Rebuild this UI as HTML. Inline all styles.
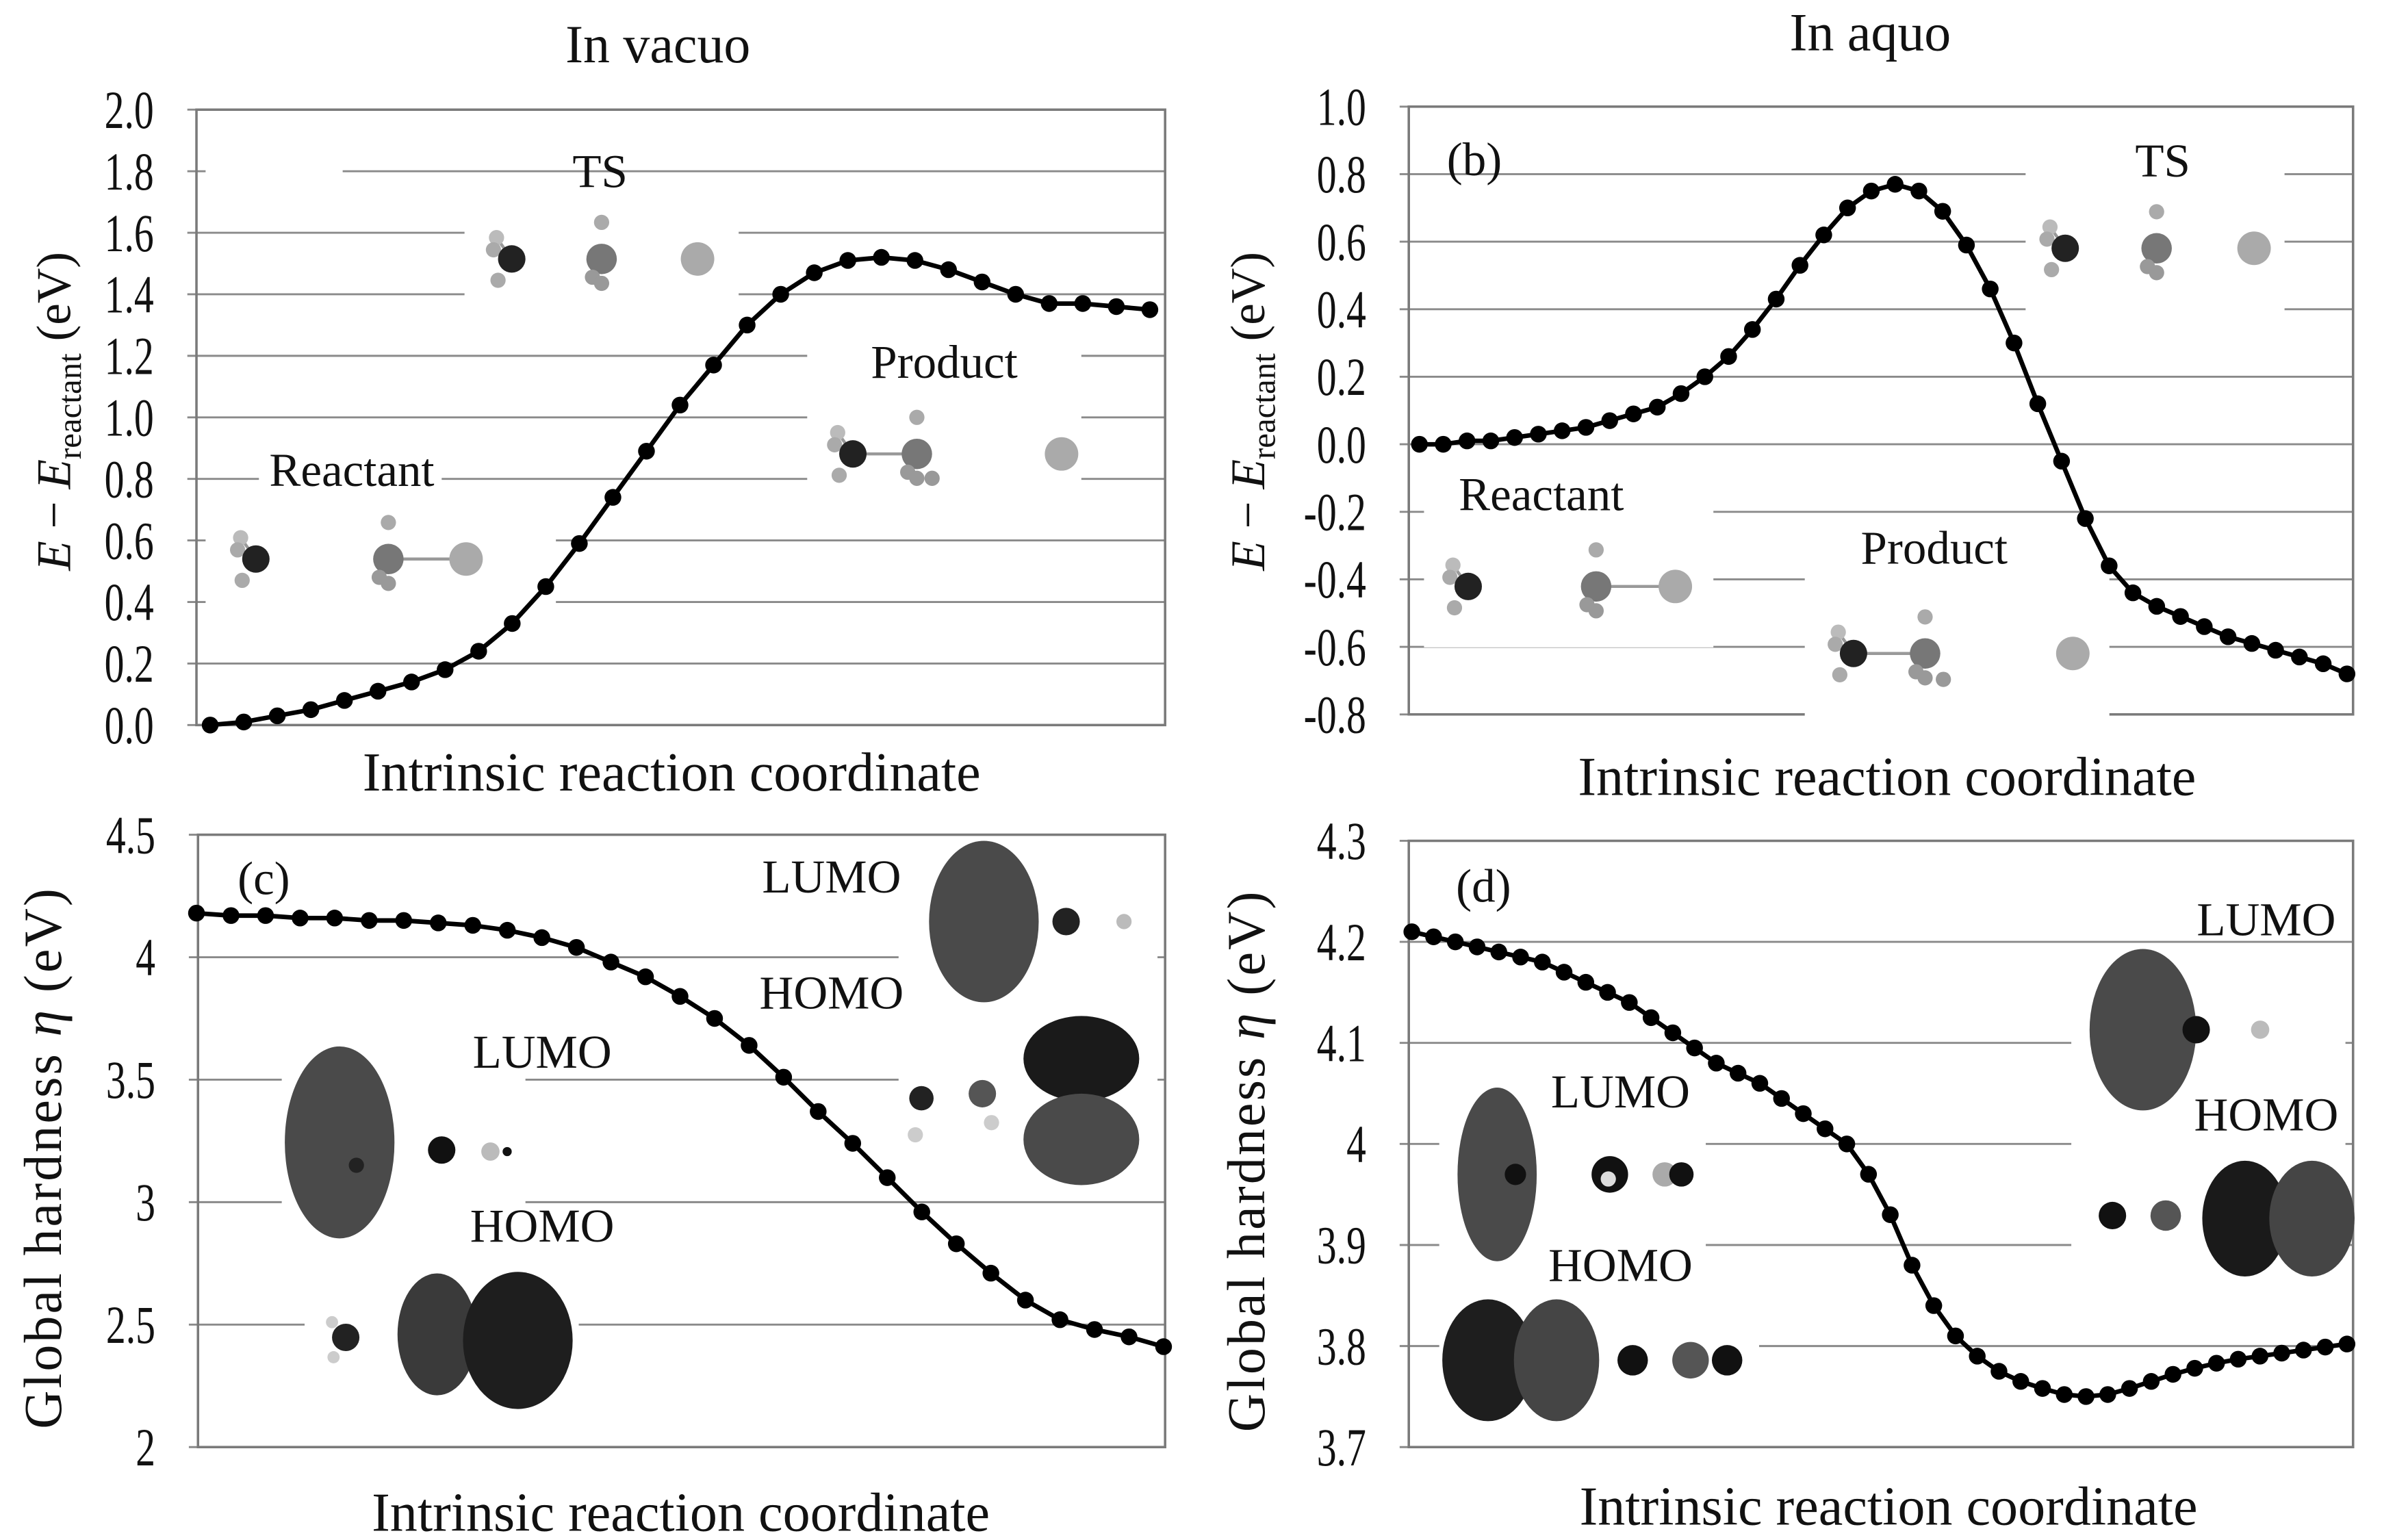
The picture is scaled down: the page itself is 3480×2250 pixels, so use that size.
<!DOCTYPE html>
<html><head><meta charset="utf-8">
<style>
html,body{margin:0;padding:0;background:#fff;}
svg{display:block;font-family:"Liberation Serif",serif;}
</style></head>
<body>
<svg id="fig" xmlns="http://www.w3.org/2000/svg" width="3480" height="2250" viewBox="0 0 1564 1011" preserveAspectRatio="none">
<rect x="0" y="0" width="1564" height="1011" fill="#fff"/>
<g id="layer"></g>
</svg>
<script>
// ---- Panel (a) data: in vacuo energy ----
const aValues = [0,0.01,0.03,0.05,0.08,0.11,0.14,0.18,0.24,0.33,0.45,0.59,0.74,0.89,1.04,1.17,1.30,1.40,1.47,1.51,1.52,1.51,1.48,1.44,1.40,1.37,1.37,1.36,1.35];
const aTicks = ["0.0","0.2","0.4","0.6","0.8","1.0","1.2","1.4","1.6","1.8","2.0"];
// ---- Panel (b) data: in aquo energy ----
const bValues = [0.00,0.00,0.01,0.01,0.02,0.03,0.04,0.05,0.07,0.09,0.11,0.15,0.20,0.26,0.34,0.43,0.53,0.62,0.70,0.75,0.77,0.75,0.69,0.59,0.46,0.30,0.12,-0.05,-0.22,-0.36,-0.44,-0.48,-0.51,-0.54,-0.57,-0.59,-0.61,-0.63,-0.65,-0.68];
const bTicks = ["-0.8","-0.6","-0.4","-0.2","0.0","0.2","0.4","0.6","0.8","1.0"];
// ---- Panel (c) data: in vacuo hardness ----
const cValues = [4.18,4.17,4.17,4.16,4.16,4.15,4.15,4.14,4.13,4.11,4.08,4.04,3.98,3.92,3.84,3.75,3.64,3.51,3.37,3.24,3.10,2.96,2.83,2.71,2.60,2.52,2.48,2.45,2.41];
const cTicks = ["2","2.5","3","3.5","4","4.5"];
// ---- Panel (d) data: in aquo hardness ----
const dValues = [4.21,4.205,4.20,4.195,4.19,4.185,4.18,4.17,4.16,4.15,4.14,4.125,4.11,4.095,4.08,4.07,4.06,4.045,4.03,4.015,4.00,3.97,3.93,3.88,3.84,3.81,3.79,3.775,3.765,3.758,3.752,3.75,3.752,3.758,3.765,3.772,3.778,3.783,3.787,3.79,3.793,3.796,3.799,3.802];
const dTicks = ["3.7","3.8","3.9","4","4.1","4.2","4.3"];

const NS = "http://www.w3.org/2000/svg";
const layer = document.getElementById('layer');
function mk(tag, attrs, parent){
  const e = document.createElementNS(NS, tag);
  for (const k in attrs) e.setAttribute(k, attrs[k]);
  (parent||layer).appendChild(e);
  return e;
}
function squeeze(t, f){
  const w = t.getComputedTextLength();
  if (w > 0){ t.setAttribute('textLength', (w*f).toFixed(1)); t.setAttribute('lengthAdjust','spacingAndGlyphs'); }
}

const panels = [
  {id:'a', vals:aValues, ticks:aTicks, x0:129, x1:765, yTop:72, yBot:476, px0:138, px1:755, label:'(a)', lx:156, ly:115},
  {id:'b', vals:bValues, ticks:bTicks, x0:925, x1:1545, yTop:70, yBot:469, px0:932, px1:1541, label:'(b)', lx:950, ly:115},
  {id:'c', vals:cValues, ticks:cTicks, x0:130, x1:765, yTop:548, yBot:950, px0:129, px1:764, label:'(c)', lx:156, ly:587},
  {id:'d', vals:dValues, ticks:dTicks, x0:925, x1:1545, yTop:552, yBot:950, px0:927, px1:1541, label:'(d)', lx:956, ly:592}
];

panels.forEach(p=>{
  const g = mk('g', {});
  
  
  const tmin = parseFloat(p.ticks[0]), tmax = parseFloat(p.ticks[p.ticks.length-1]);
  const yScale = v => p.yBot - (v - tmin)/(tmax - tmin)*(p.yBot - p.yTop);
  const xScale = i => p.px0 + i*(p.px1 - p.px0)/(p.vals.length-1);
  p.ticks.forEach(t=>{
    const y = yScale(parseFloat(t));
    const gl = mk('line', {x1:p.x0-6, x2:p.x1, y1:y, y2:y, stroke:'#8a8a8a', 'stroke-width':1.3}, g);
    
    
    const tl = mk('text', {x:p.x0-28, y:y+12, 'text-anchor':'end', 'font-size':35, fill:'#111'}, g);
    tl.textContent = t;
    
    
    squeeze(tl, 0.74);
  });
  const fr = mk('rect', {x:p.x0, y:p.yTop, width:p.x1-p.x0, height:p.yBot-p.yTop, fill:'none', stroke:'#7a7a7a', 'stroke-width':1.6}, g);
  
  
  const lb = mk('text', {x:p.lx, y:p.ly, 'font-size':31, fill:'#111'}, g);
  lb.textContent = p.label;
  
  
  p.g = g; p.yScale = yScale; p.xScale = xScale;
});

function atom(g,x,y,r,c){ mk('circle',{cx:x,cy:y,r:r,fill:c},g); }
function whiteBox(g,x,y,w,h){ mk('rect',{x:x,y:y,width:w,height:h,fill:'#fff'},g); }
function methylAmmine(g,x,y,s){
  mk('line',{x1:x,y1:y,x2:x-10*s,y2:y-14*s,stroke:'#999','stroke-width':2},g);
  atom(g,x-10*s,y-14*s,5*s,'#bbb'); atom(g,x-12*s,y-6*s,5*s,'#aaa');
  atom(g,x,y,9*s,'#222'); atom(g,x-9*s,y+14*s,5*s,'#aaa');
}
function ch3(g,x,y,s){
  atom(g,x,y-24*s,5*s,'#aaa'); atom(g,x,y,10*s,'#777'); atom(g,x-6*s,y+12*s,5*s,'#999'); atom(g,x,y+16*s,5*s,'#999');
}
function orb(g,cx,cy,rx,ry,c){ mk('ellipse',{cx:cx,cy:cy,rx:rx,ry:ry,fill:c},g); }
function ann(g,s,x,y){
  const t = mk('text',{x:x,y:y,'text-anchor':'middle','font-size':31,fill:'#111'},g); t.textContent=s;
   
}

(function(){
  const g = panels[0].g;
  whiteBox(g,135,85,90,40);
  whiteBox(g,305,125,180,80);
  whiteBox(g,135,330,230,80); whiteBox(g,170,296,120,30);
  whiteBox(g,530,225,180,120);
  methylAmmine(g,336,170,1); ch3(g,395,170,1); atom(g,458,170,11,'#aaa');
  methylAmmine(g,168,367,1); mk('line',{x1:255,y1:367,x2:305,y2:367,stroke:'#999','stroke-width':2},g); ch3(g,255,367,1); atom(g,306,367,11,'#aaa');
  mk('line',{x1:560,y1:298,x2:600,y2:298,stroke:'#999','stroke-width':2},g);
  methylAmmine(g,560,298,1); ch3(g,602,298,1); atom(g,612,314,5,'#999'); atom(g,697,298,11,'#aaa');
  ann(g,'TS',394,123); ann(g,'Reactant',231,319); ann(g,'Product',620,248);
})();
(function(){
  const g = panels[1].g;
  whiteBox(g,1330,95,170,110);
  whiteBox(g,935,315,190,110);
  whiteBox(g,1185,345,200,125);
  methylAmmine(g,1356,163,1); ch3(g,1416,163,1); atom(g,1480,163,11,'#aaa');
  methylAmmine(g,964,385,1); mk('line',{x1:1048,y1:385,x2:1098,y2:385,stroke:'#999','stroke-width':2},g); ch3(g,1048,385,1); atom(g,1100,385,11,'#aaa');
  mk('line',{x1:1217,y1:429,x2:1262,y2:429,stroke:'#999','stroke-width':2},g);
  methylAmmine(g,1217,429,1); ch3(g,1264,429,1); atom(g,1276,446,5,'#999'); atom(g,1361,429,11,'#aaa');
  ann(g,'TS',1420,116); ann(g,'Reactant',1012,335); ann(g,'Product',1270,370);
})();
(function(){
  const g = panels[2].g;
  whiteBox(g,185,680,160,130); whiteBox(g,200,830,180,100); whiteBox(g,590,550,170,230);
  orb(g,223,750,36,63,'#4a4a4a'); atom(g,234,765,5,'#222');
  atom(g,290,755,9,'#111'); atom(g,322,756,6,'#bbb'); atom(g,333,756,3,'#111');
  atom(g,227,878,9,'#222'); atom(g,218,868,4,'#ccc'); atom(g,219,891,4,'#ccc');
  orb(g,287,876,26,40,'#3a3a3a'); orb(g,340,880,36,45,'#1e1e1e');
  orb(g,646,605,36,53,'#4a4a4a'); atom(g,700,605,9,'#222'); atom(g,738,605,5,'#bbb');
  orb(g,710,695,38,28,'#1a1a1a'); orb(g,710,748,38,30,'#4a4a4a');
  atom(g,605,721,8,'#222'); atom(g,645,718,9,'#555'); atom(g,651,737,5,'#ccc'); atom(g,601,745,5,'#ccc');
  ann(g,'LUMO',546,586); ann(g,'HOMO',546,662); ann(g,'LUMO',356,701); ann(g,'HOMO',356,815);
})();
(function(){
  const g = panels[3].g;
  whiteBox(g,945,705,175,140); whiteBox(g,945,850,210,90);
  whiteBox(g,1360,630,180,200);
  orb(g,983,771,26,57,'#4a4a4a'); atom(g,995,771,7,'#111');
  atom(g,1057,771,12,'#111'); atom(g,1056,774,5,'#ddd'); atom(g,1093,771,8,'#aaa'); atom(g,1104,771,8,'#111');
  orb(g,977,893,30,40,'#1e1e1e'); orb(g,1022,893,28,40,'#454545');
  atom(g,1072,893,10,'#111'); atom(g,1110,893,12,'#555'); atom(g,1134,893,10,'#111');
  orb(g,1407,676,35,53,'#4a4a4a'); atom(g,1442,676,9,'#111'); atom(g,1484,676,6,'#bbb');
  orb(g,1474,800,28,38,'#1a1a1a'); orb(g,1518,800,28,38,'#454545');
  atom(g,1387,798,9,'#111'); atom(g,1422,798,10,'#555');
  ann(g,'LUMO',1488,614); ann(g,'HOMO',1488,742); ann(g,'LUMO',1064,727); ann(g,'HOMO',1064,841);
})();

panels.forEach(p=>{
  const pts = p.vals.map((v,i)=>p.xScale(i).toFixed(1)+','+p.yScale(v).toFixed(1)).join(' ');
  const ln = mk('polyline',{points:pts, fill:'none', stroke:'#000', 'stroke-width':3, 'stroke-linejoin':'round'}, p.g);
  
  
  p.vals.forEach((v,i)=>{
    const c = mk('circle',{cx:p.xScale(i), cy:p.yScale(v), r:5.5, fill:'#000'}, p.g);
    
    
  });
});

function txt(s,x,y,size,attrs,name){
  const t = mk('text', Object.assign({x:x,y:y,'text-anchor':'middle','font-size':size,fill:'#111'}, attrs||{}));
  t.innerHTML = s;
  
  
  return t;
}
txt('In vacuo',432,41,35,{},'column-title-vacuo');
txt('In aquo',1228,33,35,{},'column-title-aquo');
txt('Intrinsic reaction coordinate',441,519,36,{},'x-axis-title-a');
txt('Intrinsic reaction coordinate',1239,522,36,{},'x-axis-title-b');
txt('Intrinsic reaction coordinate',447,1005,36,{},'x-axis-title-c');
txt('Intrinsic reaction coordinate',1240,1001,36,{},'x-axis-title-d');
const eLab = '<tspan font-style="italic">E</tspan> − <tspan font-style="italic">E</tspan><tspan font-size="22" dy="7">reactant</tspan><tspan dy="-7"> (eV)</tspan>';
txt(eLab,0,0,32,{transform:'translate(46,270) rotate(-90)'},'y-axis-title-a');
txt(eLab,0,0,32,{transform:'translate(830,270) rotate(-90)'},'y-axis-title-b');
const hLab = 'Global hardness <tspan font-style="italic">η</tspan> (eV)';
txt(hLab,0,0,35,{transform:'translate(40,760) rotate(-90)','letter-spacing':1.4},'y-axis-title-c');
txt(hLab,0,0,35,{transform:'translate(830,762) rotate(-90)','letter-spacing':1.4},'y-axis-title-d');
</script>
</body></html>
